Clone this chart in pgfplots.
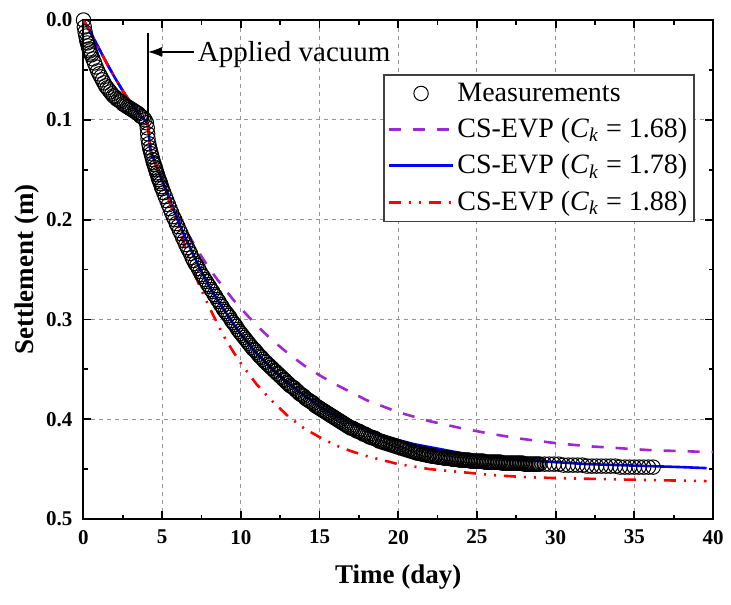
\documentclass[border=0pt]{standalone}
\usepackage{pgfplots}
\pgfplotsset{compat=1.18}
\usepackage{pgfplotstable}
\usepackage{fontspec}
\setmainfont{Liberation Serif}
\usetikzlibrary{arrows.meta}
\definecolor{cpurple}{RGB}{160,40,210}
\definecolor{cgrid}{RGB}{150,150,150}
\pgfplotsset{
  mylinelegend/.style={legend image code/.code={\draw[##1] (0pt,0pt) -- (32pt,0pt);}},
  mymarklegend/.style={legend image code/.code={\draw[##1] plot coordinates {(16pt,0pt)};}},
}

\pgfplotstableread{
t s
0 0.000
0.05 0.007
0.1 0.012
0.15 0.016
0.2 0.020
0.25 0.023
0.3 0.026
0.35 0.029
0.4 0.031
0.45 0.033
0.5 0.035
0.6 0.039
0.7 0.043
0.8 0.047
0.9 0.051
1.0 0.054
1.1 0.057
1.2 0.060
1.3 0.063
1.4 0.066
1.5 0.068
1.6 0.070
1.7 0.072
1.8 0.074
1.9 0.076
2.0 0.077
2.1 0.079
2.2 0.080
2.3 0.081
2.4 0.082
2.5 0.084
2.6 0.085
2.7 0.086
2.8 0.087
2.9 0.088
3.0 0.089
3.1 0.090
3.2 0.091
3.3 0.092
3.4 0.093
3.5 0.094
3.6 0.096
3.7 0.097
3.8 0.098
3.9 0.100
4.0 0.103
4.05 0.108
4.08 0.114
4.1 0.119
4.15 0.124
4.2 0.128
4.25 0.131
4.3 0.134
4.35 0.137
4.4 0.140
4.45 0.143
4.5 0.145
4.55 0.148
4.6 0.150
4.65 0.153
4.7 0.155
4.75 0.158
4.8 0.160
4.85 0.162
4.9 0.164
4.95 0.167
5.0 0.169
5.1 0.173
5.2 0.177
5.3 0.181
5.4 0.185
5.5 0.189
5.6 0.193
5.7 0.197
5.8 0.200
5.9 0.204
6.0 0.207
6.1 0.211
6.2 0.214
6.3 0.218
6.4 0.221
6.5 0.225
6.6 0.228
6.7 0.231
6.8 0.234
6.9 0.238
7.0 0.241
7.1 0.244
7.2 0.246
7.3 0.249
7.4 0.252
7.5 0.255
7.6 0.257
7.7 0.260
7.8 0.262
7.9 0.265
8.0 0.267
8.1 0.270
8.2 0.272
8.3 0.275
8.4 0.277
8.5 0.280
8.6 0.282
8.7 0.285
8.8 0.287
8.9 0.290
9.0 0.292
9.1 0.294
9.2 0.296
9.3 0.298
9.4 0.301
9.5 0.303
9.6 0.305
9.7 0.307
9.8 0.310
9.9 0.312
10.0 0.314
10.1 0.316
10.2 0.318
10.3 0.320
10.4 0.322
10.5 0.324
10.6 0.326
10.7 0.328
10.8 0.330
10.9 0.331
11.0 0.333
11.1 0.335
11.2 0.337
11.3 0.338
11.4 0.340
11.5 0.342
11.6 0.343
11.7 0.345
11.8 0.346
11.9 0.348
12.0 0.349
12.1 0.351
12.2 0.352
12.3 0.354
12.4 0.355
12.5 0.357
12.6 0.358
12.7 0.360
12.8 0.361
12.9 0.363
13.0 0.364
13.1 0.366
13.2 0.367
13.3 0.368
13.4 0.369
13.5 0.371
13.6 0.372
13.7 0.374
13.8 0.375
13.9 0.376
14.0 0.377
14.1 0.379
14.2 0.380
14.3 0.381
14.4 0.382
14.5 0.383
14.6 0.384
14.7 0.386
14.8 0.387
14.9 0.388
15.0 0.389
15.1 0.390
15.2 0.391
15.3 0.392
15.4 0.393
15.5 0.394
15.6 0.395
15.7 0.396
15.8 0.397
15.9 0.398
16.0 0.399
16.1 0.400
16.2 0.401
16.3 0.402
16.4 0.403
16.5 0.404
16.6 0.405
16.7 0.406
16.8 0.407
16.9 0.408
17.0 0.409
17.1 0.409
17.2 0.410
17.3 0.411
17.4 0.412
17.5 0.412
17.6 0.413
17.7 0.414
17.8 0.415
17.9 0.415
18.0 0.416
18.1 0.417
18.2 0.418
18.3 0.418
18.4 0.419
18.5 0.419
18.6 0.420
18.7 0.421
18.8 0.422
18.9 0.422
19.0 0.423
19.1 0.423
19.2 0.424
19.3 0.424
19.4 0.425
19.5 0.425
19.6 0.426
19.7 0.426
19.8 0.427
19.9 0.427
20.0 0.428
20.1 0.428
20.2 0.429
20.3 0.429
20.4 0.430
20.5 0.430
20.6 0.431
20.7 0.431
20.8 0.432
20.9 0.432
21.0 0.433
21.1 0.433
21.2 0.434
21.3 0.434
21.4 0.434
21.5 0.435
21.6 0.435
21.7 0.435
21.8 0.436
21.9 0.436
22.0 0.436
22.1 0.437
22.2 0.437
22.3 0.437
22.4 0.437
22.5 0.438
22.6 0.438
22.7 0.438
22.8 0.438
22.9 0.439
23.0 0.439
23.1 0.439
23.2 0.439
23.3 0.439
23.4 0.440
23.5 0.440
23.6 0.440
23.7 0.440
23.8 0.440
23.9 0.441
24.0 0.441
24.1 0.441
24.2 0.441
24.3 0.441
24.4 0.441
24.5 0.441
24.6 0.442
24.7 0.442
24.8 0.442
24.9 0.442
25.0 0.442
25.1 0.442
25.2 0.442
25.3 0.442
25.4 0.442
25.5 0.443
25.6 0.443
25.7 0.443
25.8 0.443
25.9 0.443
26.0 0.443
26.1 0.443
26.2 0.443
26.3 0.443
26.4 0.443
26.5 0.443
26.6 0.444
26.7 0.444
26.8 0.444
26.9 0.444
27.0 0.444
27.1 0.444
27.2 0.444
27.3 0.444
27.4 0.444
27.5 0.444
27.6 0.444
27.7 0.444
27.8 0.444
27.9 0.444
28.0 0.445
28.1 0.445
28.2 0.445
28.3 0.445
28.4 0.445
28.5 0.445
28.6 0.445
28.7 0.445
28.8 0.445
28.9 0.445
29.0 0.445
29.3 0.445
29.6 0.445
29.9 0.445
30.2 0.445
30.5 0.446
30.8 0.446
31.1 0.446
31.4 0.446
31.7 0.446
32.0 0.447
32.3 0.447
32.6 0.447
32.9 0.447
33.2 0.447
33.5 0.447
33.8 0.447
34.1 0.448
34.4 0.448
34.7 0.448
35.0 0.448
35.3 0.448
35.6 0.448
35.9 0.448
36.2 0.448
}\meas

\pgfplotstableread{
t s
0 0
0.5 0.014
1.0 0.029
1.5 0.044
2.0 0.058
2.5 0.071
3.0 0.083
3.5 0.094
4.0 0.102
4.1 0.106
4.15 0.114
4.2 0.122
4.25 0.130
4.35 0.135
4.5 0.141
4.75 0.151
5.0 0.161
5.5 0.180
6.0 0.197
6.5 0.211
7.0 0.224
7.5 0.237
8.0 0.249
8.5 0.260
9.0 0.270
9.5 0.280
10 0.289
11 0.306
12 0.321
13 0.334
14 0.346
15 0.356
16 0.365
17 0.373
18 0.381
19 0.387
20 0.393
22 0.402
24 0.409
26 0.415
28 0.420
30 0.424
32 0.427
34 0.429
36 0.431
38 0.432
40 0.433
}\cka

\pgfplotstableread{
t s
0 0
0.5 0.014
1.0 0.029
1.5 0.044
2.0 0.058
2.5 0.071
3.0 0.083
3.5 0.094
4.0 0.102
4.1 0.106
4.15 0.114
4.2 0.122
4.25 0.130
4.35 0.135
4.5 0.141
4.75 0.151
5.0 0.161
5.5 0.181
6.0 0.201
6.5 0.219
7.0 0.236
7.5 0.252
8.0 0.267
8.5 0.280
9.0 0.292
9.5 0.304
10 0.315
11 0.334
12 0.350
13 0.364
14 0.376
15 0.387
16 0.396
17 0.404
18 0.411
19 0.417
20 0.421
21 0.425
22 0.428
24 0.434
26 0.438
28 0.441
30 0.443
32 0.445
34 0.446
36 0.447
38 0.448
39.6 0.449
}\ckb

\pgfplotstableread{
t s
0 0
0.5 0.014
1.0 0.029
1.5 0.044
2.0 0.058
2.5 0.071
3.0 0.083
3.5 0.094
4.0 0.102
4.1 0.106
4.15 0.114
4.2 0.122
4.25 0.130
4.35 0.135
4.5 0.141
4.75 0.151
5.0 0.162
5.5 0.184
6.0 0.205
6.5 0.229
7.0 0.252
7.5 0.271
8.0 0.288
8.5 0.304
9.0 0.319
9.5 0.332
10 0.344
11 0.365
12 0.382
13 0.397
14 0.409
15 0.418
16 0.426
17 0.432
18 0.437
19 0.441
20 0.445
22 0.450
24 0.453
26 0.456
28 0.458
30 0.459
33 0.460
36 0.461
39.6 0.462
}\ckc

\begin{document}
\begin{tikzpicture}
\useasboundingbox (-41.75pt,-42.5pt) rectangle (323.75pt,259.5pt);
\begin{axis}[
  at={(0pt,0pt)}, anchor=south west,
  scale only axis, width=314.75pt, height=249.5pt,
  xmin=0, xmax=40, ymin=0, ymax=0.5, y dir=reverse,
  xtick={0,5,...,40}, ytick={0,0.1,0.2,0.3,0.4,0.5},
  minor x tick num=1, minor y tick num=1,
  tick align=inside, tick pos=both,
  xticklabel pos=bottom, yticklabel pos=left,
  major tick length=4pt, minor tick length=2.25pt,
  every tick/.append style={black, line width=0.9pt},
  axis line style={line width=1pt},
  grid=major,
  major grid style={cgrid, line width=0.5pt, dash pattern=on 2pt off 2pt},
  /pgf/number format/assume math mode=true,
  ticklabel style={font=\fontsize{10.5}{12}\selectfont\bfseries},
  xticklabel style={yshift=-2pt},
  yticklabel style={xshift=-2pt, /pgf/number format/.cd, fixed, fixed zerofill, precision=1},
  xlabel={Time (day)},
  ylabel={Settlement (m)},
  xlabel style={font=\fontsize{13.5}{16}\selectfont\bfseries, at={(axis description cs:0.5,-0.1162)}, anchor=center},
  ylabel style={font=\fontsize{13.5}{16}\selectfont\bfseries, at={(axis description cs:-0.0898,0.5)}, anchor=center},
  legend cell align=left,
  legend style={at={(axis description cs:0.9714,0.8918)}, anchor=north east,
    draw=black!75, line width=0.8pt, font=\fontsize{14}{16.5}\selectfont,
    inner xsep=2pt, inner ysep=2.5pt, row sep=4pt,
    nodes={inner sep=1.5pt}},
]
\addplot[only marks, mark=o, mark size=3.6pt,
  mark options={draw=black, fill=white, line width=0.5pt}, mymarklegend]
  table[x=t,y=s] {\meas};
\addlegendentry{Measurements}
\addplot[cpurple, line width=1.3pt, dash pattern=on 6pt off 6pt, mylinelegend]
  table[x=t,y=s] {\cka};
\addlegendentry{CS-EVP (\textit{C}\textsubscript{\textit{k}} = 1.68)}
\addplot[blue, line width=1.3pt, mylinelegend]
  table[x=t,y=s] {\ckb};
\addlegendentry{CS-EVP (\textit{C}\textsubscript{\textit{k}} = 1.78)}
\addplot[red, line width=1.3pt, dash pattern=on 6pt off 4pt on 1pt off 4pt on 1pt off 4pt, mylinelegend]
  table[x=t,y=s] {\ckc};
\addlegendentry{CS-EVP (\textit{C}\textsubscript{\textit{k}} = 1.88)}
\draw[black, line width=0.6pt] (axis cs:4.1,0.013) -- (axis cs:4.1,0.100);
\draw[black, line width=0.6pt, -{Latex[length=7pt,width=5pt]}] (axis cs:7.0,0.032) -- (axis cs:4.1,0.032);
\node[anchor=base west, inner sep=0pt, font=\fontsize{14.5}{17}\selectfont] at (axis cs:7.25,0.042) {Applied vacuum};
\end{axis}
\end{tikzpicture}
\end{document}
